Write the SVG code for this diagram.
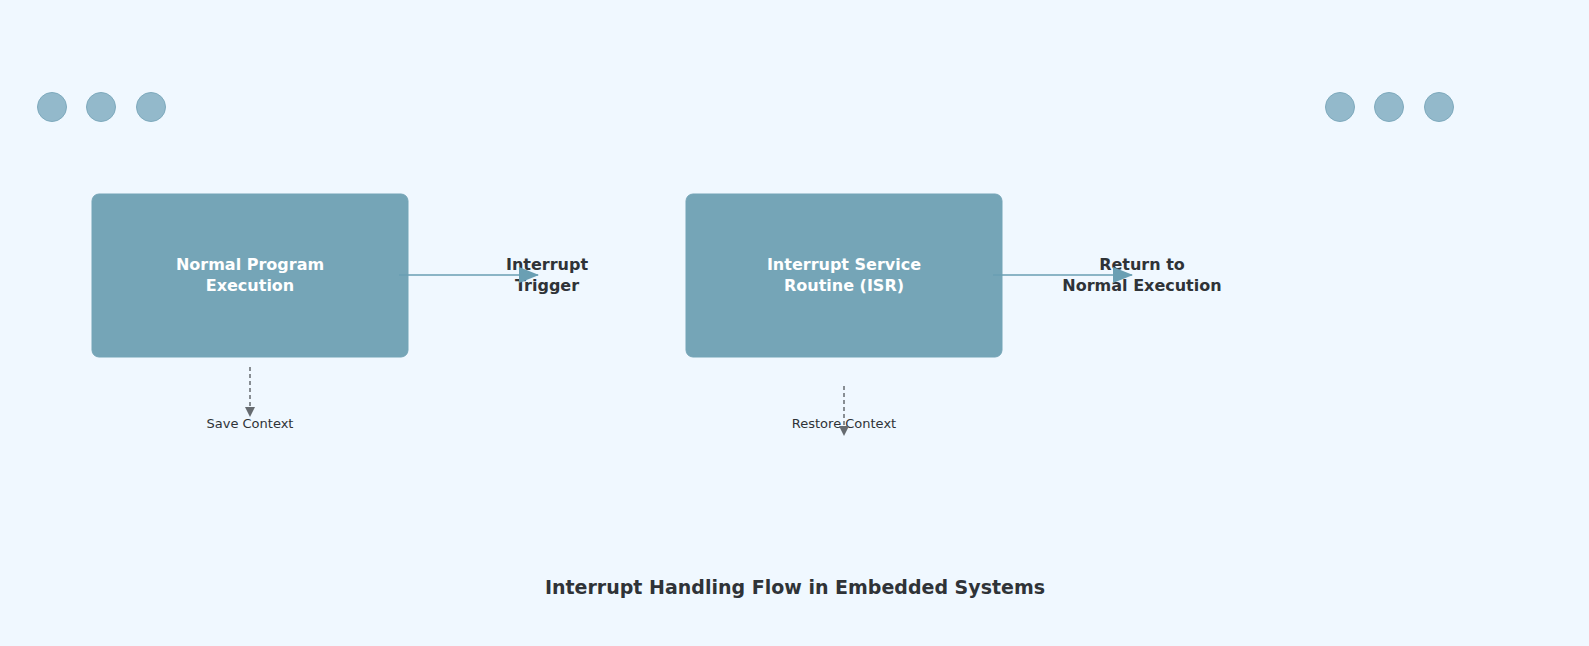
<svg xmlns="http://www.w3.org/2000/svg" width="1589" height="646" viewBox="0 0 1589 646">
<defs>
<style>
.dot{fill:#93b9cb;stroke:#7eaabd;stroke-width:1}
.box{fill:#75a5b7;stroke:#75a5b7}
.bt{font-family:"DejaVu Sans",sans-serif;font-size:16px;font-weight:bold;fill:#ffffff;text-anchor:middle}
.lt{font-family:"DejaVu Sans",sans-serif;font-size:16px;font-weight:bold;fill:#2f3337;text-anchor:middle}
.st{font-family:"DejaVu Sans",sans-serif;font-size:13px;fill:#2f3337;text-anchor:middle}
.flow{stroke:#6a9fb3;stroke-width:1.5;fill:none}
.dash{stroke:#666b70;stroke-width:1.5;stroke-dasharray:4 3;fill:none}
</style>
<marker id="ah" markerWidth="10" markerHeight="10" refX="9" refY="5" orient="auto" markerUnits="userSpaceOnUse" viewBox="0 0 10 10"><path d="M0,0 L10,5 L0,10 z" fill="#6a9fb3"/></marker>
<marker id="ah2" markerWidth="10" markerHeight="10" refX="9" refY="5" orient="auto" markerUnits="userSpaceOnUse" viewBox="0 0 10 10"><path d="M0,0 L10,5 L0,10 z" fill="#666b70"/></marker>
<marker id="big" markerWidth="20" markerHeight="16" refX="19" refY="8" orient="auto" markerUnits="userSpaceOnUse" viewBox="0 0 20 16"><path d="M0,0 L20,8 L0,16 z" fill="#6a9fb3"/></marker>
</defs>
<rect width="1589" height="646" fill="#f0f8ff"/>
<g id="dots">
<circle class="dot" cx="52" cy="107" r="14.5"/><circle class="dot" cx="101" cy="107" r="14.5"/><circle class="dot" cx="151" cy="107" r="14.5"/>
<circle class="dot" cx="1340" cy="107" r="14.5"/><circle class="dot" cx="1389" cy="107" r="14.5"/><circle class="dot" cx="1439" cy="107" r="14.5"/>
</g>
<g id="n1"><rect class="box" x="92" y="194" width="316" height="163" rx="7"/><text class="bt" x="250" y="270">Normal Program</text><text class="bt" x="250" y="291">Execution</text></g>
<g id="n2"><rect class="box" x="686" y="194" width="316" height="163" rx="7"/><text class="bt" x="844" y="270">Interrupt Service</text><text class="bt" x="844" y="291">Routine (ISR)</text></g>
<g id="l1"><text class="lt" x="547" y="270">Interrupt</text><text class="lt" x="547" y="291">Trigger</text></g>
<g id="l2"><text class="lt" x="1142" y="270">Return to</text><text class="lt" x="1142" y="291">Normal Execution</text></g>
<g id="s1"><text class="st" x="250" y="428">Save Context</text></g>
<g id="s2"><text class="st" x="844" y="428">Restore Context</text></g>
<g id="connectors">
<line class="flow" x1="399" y1="275" x2="538" y2="275" marker-end="url(#big)"/>
<line class="flow" x1="993" y1="275" x2="1132" y2="275" marker-end="url(#big)"/>
<line class="dash" x1="250" y1="367" x2="250" y2="416" marker-end="url(#ah2)"/>
<line class="dash" x1="844" y1="386" x2="844" y2="435" marker-end="url(#ah2)"/>
</g>
<text x="795" y="594" font-family="DejaVu Sans, sans-serif" font-size="19" font-weight="bold" fill="#2f3337" text-anchor="middle">Interrupt Handling Flow in Embedded Systems</text>
</svg>
